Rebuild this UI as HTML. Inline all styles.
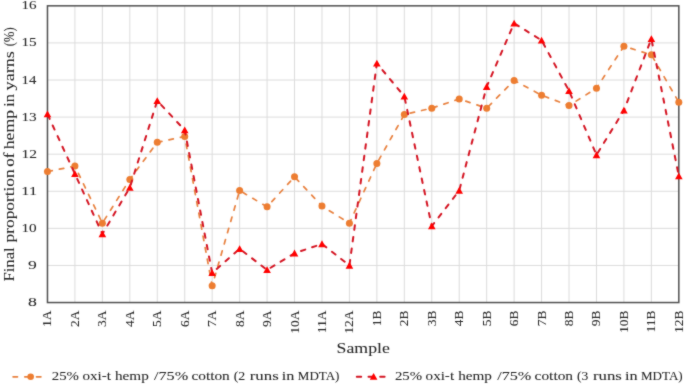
<!DOCTYPE html><html><head><meta charset="utf-8"><style>html,body{margin:0;padding:0;background:#fff;overflow:hidden;}svg{display:block;}#w{width:685px;height:386px;will-change:transform;}text{font-family:"Liberation Serif", serif;}</style></head><body><div id="w">
<svg width="685" height="386" viewBox="0 0 685 386">
<defs><filter id="bl" x="0" y="0" width="685" height="386" filterUnits="userSpaceOnUse" color-interpolation-filters="sRGB"><feConvolveMatrix order="3" kernelMatrix="0.03 0.07 0.03 0.07 0.6 0.07 0.03 0.07 0.03" edgeMode="duplicate"/></filter></defs><g filter="url(#bl)">
<rect x="0" y="0" width="685" height="386" fill="#fff"/>
<path d="M47.47 265.46H678.82M47.47 228.37H678.82M47.47 191.28H678.82M47.47 154.19H678.82M47.47 117.10H678.82M47.47 80.01H678.82M47.47 42.92H678.82M74.92 5.83V302.55M102.37 5.83V302.55M129.82 5.83V302.55M157.27 5.83V302.55M184.72 5.83V302.55M212.17 5.83V302.55M239.62 5.83V302.55M267.07 5.83V302.55M294.52 5.83V302.55M321.97 5.83V302.55M349.42 5.83V302.55M376.87 5.83V302.55M404.32 5.83V302.55M431.77 5.83V302.55M459.22 5.83V302.55M486.67 5.83V302.55M514.12 5.83V302.55M541.57 5.83V302.55M569.02 5.83V302.55M596.47 5.83V302.55M623.92 5.83V302.55M651.37 5.83V302.55" stroke="#DCDCDC" stroke-width="1" fill="none"/>
<rect x="47.47" y="5.83" width="631.35" height="296.72" fill="none" stroke="#505050" stroke-width="1.5"/>
<g stroke="#262626" stroke-width="0.05">
<text x="27.93" y="306.05" font-size="12.5" textLength="8.84" lengthAdjust="spacingAndGlyphs" fill="#262626">8</text>
<text x="28.04" y="268.96" font-size="12.5" textLength="8.78" lengthAdjust="spacingAndGlyphs" fill="#262626">9</text>
<text x="21.46" y="231.87" font-size="12.5" textLength="15.22" lengthAdjust="spacingAndGlyphs" fill="#262626">10</text>
<text x="21.36" y="194.78" font-size="12.5" textLength="15.71" lengthAdjust="spacingAndGlyphs" fill="#262626">11</text>
<text x="21.43" y="157.69" font-size="12.5" textLength="15.52" lengthAdjust="spacingAndGlyphs" fill="#262626">12</text>
<text x="21.46" y="120.60" font-size="12.5" textLength="15.23" lengthAdjust="spacingAndGlyphs" fill="#262626">13</text>
<text x="21.49" y="83.51" font-size="12.5" textLength="14.84" lengthAdjust="spacingAndGlyphs" fill="#262626">14</text>
<text x="21.46" y="46.42" font-size="12.5" textLength="15.23" lengthAdjust="spacingAndGlyphs" fill="#262626">15</text>
<text x="21.47" y="9.33" font-size="12.5" textLength="15.08" lengthAdjust="spacingAndGlyphs" fill="#262626">16</text>
<text transform="translate(51.47,310.6) rotate(-90)" font-size="13.5" text-anchor="end" fill="#262626">1A</text>
<text transform="translate(78.92,310.6) rotate(-90)" font-size="13.5" text-anchor="end" fill="#262626">2A</text>
<text transform="translate(106.37,310.6) rotate(-90)" font-size="13.5" text-anchor="end" fill="#262626">3A</text>
<text transform="translate(133.82,310.6) rotate(-90)" font-size="13.5" text-anchor="end" fill="#262626">4A</text>
<text transform="translate(161.27,310.6) rotate(-90)" font-size="13.5" text-anchor="end" fill="#262626">5A</text>
<text transform="translate(188.72,310.6) rotate(-90)" font-size="13.5" text-anchor="end" fill="#262626">6A</text>
<text transform="translate(216.17,310.6) rotate(-90)" font-size="13.5" text-anchor="end" fill="#262626">7A</text>
<text transform="translate(243.62,310.6) rotate(-90)" font-size="13.5" text-anchor="end" fill="#262626">8A</text>
<text transform="translate(271.07,310.6) rotate(-90)" font-size="13.5" text-anchor="end" fill="#262626">9A</text>
<text transform="translate(298.52,310.6) rotate(-90)" font-size="13.5" text-anchor="end" fill="#262626">10A</text>
<text transform="translate(325.97,310.6) rotate(-90)" font-size="13.5" text-anchor="end" fill="#262626">11A</text>
<text transform="translate(353.42,310.6) rotate(-90)" font-size="13.5" text-anchor="end" fill="#262626">12A</text>
<text transform="translate(380.87,310.6) rotate(-90)" font-size="13.5" text-anchor="end" fill="#262626">1B</text>
<text transform="translate(408.32,310.6) rotate(-90)" font-size="13.5" text-anchor="end" fill="#262626">2B</text>
<text transform="translate(435.77,310.6) rotate(-90)" font-size="13.5" text-anchor="end" fill="#262626">3B</text>
<text transform="translate(463.22,310.6) rotate(-90)" font-size="13.5" text-anchor="end" fill="#262626">4B</text>
<text transform="translate(490.67,310.6) rotate(-90)" font-size="13.5" text-anchor="end" fill="#262626">5B</text>
<text transform="translate(518.12,310.6) rotate(-90)" font-size="13.5" text-anchor="end" fill="#262626">6B</text>
<text transform="translate(545.57,310.6) rotate(-90)" font-size="13.5" text-anchor="end" fill="#262626">7B</text>
<text transform="translate(573.02,310.6) rotate(-90)" font-size="13.5" text-anchor="end" fill="#262626">8B</text>
<text transform="translate(600.47,310.6) rotate(-90)" font-size="13.5" text-anchor="end" fill="#262626">9B</text>
<text transform="translate(627.92,310.6) rotate(-90)" font-size="13.5" text-anchor="end" fill="#262626">10B</text>
<text transform="translate(655.37,310.6) rotate(-90)" font-size="13.5" text-anchor="end" fill="#262626">11B</text>
<text transform="translate(682.82,310.6) rotate(-90)" font-size="13.5" text-anchor="end" fill="#262626">12B</text>
<text x="336.61" y="352.80" font-size="15.5" textLength="53.20" lengthAdjust="spacingAndGlyphs" fill="#262626">Sample</text>
<text transform="translate(13.90,281.10) rotate(-90)" x="-0.48" y="0" font-size="15.5" textLength="34.31" lengthAdjust="spacingAndGlyphs" fill="#262626">Final</text>
<text transform="translate(13.90,242.20) rotate(-90)" x="-0.28" y="0" font-size="15.5" textLength="73.13" lengthAdjust="spacingAndGlyphs" fill="#262626">proportion</text>
<text transform="translate(13.90,166.10) rotate(-90)" x="-0.65" y="0" font-size="15.5" textLength="14.15" lengthAdjust="spacingAndGlyphs" fill="#262626">of</text>
<text transform="translate(13.90,149.10) rotate(-90)" x="-0.18" y="0" font-size="15.5" textLength="39.46" lengthAdjust="spacingAndGlyphs" fill="#262626">hemp</text>
<text transform="translate(13.90,106.40) rotate(-90)" x="-0.34" y="0" font-size="15.5" textLength="12.68" lengthAdjust="spacingAndGlyphs" fill="#262626">in</text>
<text transform="translate(13.90,90.20) rotate(-90)" x="-0.22" y="0" font-size="15.5" textLength="39.37" lengthAdjust="spacingAndGlyphs" fill="#262626">yarns</text>
<text transform="translate(13.90,45.80) rotate(-90)" x="-0.56" y="0" font-size="15.5" textLength="19.02" lengthAdjust="spacingAndGlyphs" fill="#262626">(%)</text>
<text x="51.75" y="380.20" font-size="12" textLength="27.16" lengthAdjust="spacingAndGlyphs" fill="#262626">25%</text>
<text x="82.43" y="380.20" font-size="12" textLength="28.46" lengthAdjust="spacingAndGlyphs" fill="#262626">oxi-t</text>
<text x="114.95" y="380.20" font-size="12" textLength="33.84" lengthAdjust="spacingAndGlyphs" fill="#262626">hemp</text>
<text x="154.00" y="380.20" font-size="12" textLength="34.15" lengthAdjust="spacingAndGlyphs" fill="#262626">/75%</text>
<text x="191.42" y="380.20" font-size="12" textLength="38.41" lengthAdjust="spacingAndGlyphs" fill="#262626">cotton</text>
<text x="233.69" y="380.20" font-size="12" textLength="11.58" lengthAdjust="spacingAndGlyphs" fill="#262626">(2</text>
<text x="249.76" y="380.20" font-size="12" textLength="28.94" lengthAdjust="spacingAndGlyphs" fill="#262626">runs</text>
<text x="281.86" y="380.20" font-size="12" textLength="12.58" lengthAdjust="spacingAndGlyphs" fill="#262626">in</text>
<text x="297.82" y="380.20" font-size="12" textLength="41.65" lengthAdjust="spacingAndGlyphs" fill="#262626">MDTA)</text>
<text x="394.95" y="380.20" font-size="12" textLength="27.16" lengthAdjust="spacingAndGlyphs" fill="#262626">25%</text>
<text x="425.63" y="380.20" font-size="12" textLength="28.46" lengthAdjust="spacingAndGlyphs" fill="#262626">oxi-t</text>
<text x="458.15" y="380.20" font-size="12" textLength="33.84" lengthAdjust="spacingAndGlyphs" fill="#262626">hemp</text>
<text x="497.20" y="380.20" font-size="12" textLength="34.15" lengthAdjust="spacingAndGlyphs" fill="#262626">/75%</text>
<text x="534.62" y="380.20" font-size="12" textLength="38.41" lengthAdjust="spacingAndGlyphs" fill="#262626">cotton</text>
<text x="576.90" y="380.20" font-size="12" textLength="11.33" lengthAdjust="spacingAndGlyphs" fill="#262626">(3</text>
<text x="592.96" y="380.20" font-size="12" textLength="28.94" lengthAdjust="spacingAndGlyphs" fill="#262626">runs</text>
<text x="625.06" y="380.20" font-size="12" textLength="12.58" lengthAdjust="spacingAndGlyphs" fill="#262626">in</text>
<text x="641.02" y="380.20" font-size="12" textLength="41.65" lengthAdjust="spacingAndGlyphs" fill="#262626">MDTA)</text>
</g>
<g stroke="#E8813F" stroke-width="1.7" stroke-dasharray="4.50 7.20" stroke-linecap="round"><line x1="47.47" y1="171.62" x2="74.92" y2="166.06" stroke-dashoffset="11.25"/><line x1="74.92" y1="166.06" x2="102.37" y2="223.18" stroke-dashoffset="3.71"/><line x1="102.37" y1="223.18" x2="129.82" y2="179.41" stroke-dashoffset="8.14"/><line x1="129.82" y1="179.41" x2="157.27" y2="142.32" stroke-dashoffset="0.85"/><line x1="157.27" y1="142.32" x2="184.72" y2="136.39" stroke-dashoffset="11.45"/><line x1="184.72" y1="136.39" x2="212.17" y2="285.86" stroke-dashoffset="3.85"/><line x1="212.17" y1="285.86" x2="239.62" y2="190.54" stroke-dashoffset="3.14"/><line x1="239.62" y1="190.54" x2="267.07" y2="206.86" stroke-dashoffset="8.15"/><line x1="267.07" y1="206.86" x2="294.52" y2="176.81" stroke-dashoffset="4.69"/><line x1="294.52" y1="176.81" x2="321.97" y2="206.12" stroke-dashoffset="9.99"/><line x1="321.97" y1="206.12" x2="349.42" y2="223.18" stroke-dashoffset="3.05"/><line x1="349.42" y1="223.18" x2="376.87" y2="163.46" stroke-dashoffset="0.46"/><line x1="376.87" y1="163.46" x2="404.32" y2="114.50" stroke-dashoffset="7.87"/><line x1="404.32" y1="114.50" x2="431.77" y2="108.20" stroke-dashoffset="5.69"/><line x1="431.77" y1="108.20" x2="459.22" y2="98.93" stroke-dashoffset="10.65"/><line x1="459.22" y1="98.93" x2="486.67" y2="108.20" stroke-dashoffset="4.75"/><line x1="486.67" y1="108.20" x2="514.12" y2="80.38" stroke-dashoffset="9.30"/><line x1="514.12" y1="80.38" x2="541.57" y2="95.22" stroke-dashoffset="0.55"/><line x1="541.57" y1="95.22" x2="569.02" y2="105.60" stroke-dashoffset="8.73"/><line x1="569.02" y1="105.60" x2="596.47" y2="88.17" stroke-dashoffset="3.36"/><line x1="596.47" y1="88.17" x2="623.92" y2="46.26" stroke-dashoffset="1.15"/><line x1="623.92" y1="46.26" x2="651.37" y2="54.79" stroke-dashoffset="4.45"/><line x1="651.37" y1="54.79" x2="678.82" y2="102.26" stroke-dashoffset="9.80"/></g>
<circle cx="47.47" cy="171.62" r="3.5" fill="#ED7D31"/>
<circle cx="74.92" cy="166.06" r="3.5" fill="#ED7D31"/>
<circle cx="102.37" cy="223.18" r="3.5" fill="#ED7D31"/>
<circle cx="129.82" cy="179.41" r="3.5" fill="#ED7D31"/>
<circle cx="157.27" cy="142.32" r="3.5" fill="#ED7D31"/>
<circle cx="184.72" cy="136.39" r="3.5" fill="#ED7D31"/>
<circle cx="212.17" cy="285.86" r="3.5" fill="#ED7D31"/>
<circle cx="239.62" cy="190.54" r="3.5" fill="#ED7D31"/>
<circle cx="267.07" cy="206.86" r="3.5" fill="#ED7D31"/>
<circle cx="294.52" cy="176.81" r="3.5" fill="#ED7D31"/>
<circle cx="321.97" cy="206.12" r="3.5" fill="#ED7D31"/>
<circle cx="349.42" cy="223.18" r="3.5" fill="#ED7D31"/>
<circle cx="376.87" cy="163.46" r="3.5" fill="#ED7D31"/>
<circle cx="404.32" cy="114.50" r="3.5" fill="#ED7D31"/>
<circle cx="431.77" cy="108.20" r="3.5" fill="#ED7D31"/>
<circle cx="459.22" cy="98.93" r="3.5" fill="#ED7D31"/>
<circle cx="486.67" cy="108.20" r="3.5" fill="#ED7D31"/>
<circle cx="514.12" cy="80.38" r="3.5" fill="#ED7D31"/>
<circle cx="541.57" cy="95.22" r="3.5" fill="#ED7D31"/>
<circle cx="569.02" cy="105.60" r="3.5" fill="#ED7D31"/>
<circle cx="596.47" cy="88.17" r="3.5" fill="#ED7D31"/>
<circle cx="623.92" cy="46.26" r="3.5" fill="#ED7D31"/>
<circle cx="651.37" cy="54.79" r="3.5" fill="#ED7D31"/>
<circle cx="678.82" cy="102.26" r="3.5" fill="#ED7D31"/>
<g stroke="#D41422" stroke-width="2.0" stroke-dasharray="4.50 7.20" stroke-linecap="round"><line x1="47.47" y1="114.13" x2="74.92" y2="173.85" stroke-dashoffset="10.90"/><line x1="74.92" y1="173.85" x2="102.37" y2="233.93" stroke-dashoffset="6.25"/><line x1="102.37" y1="233.93" x2="129.82" y2="187.57" stroke-dashoffset="1.94"/><line x1="129.82" y1="187.57" x2="157.27" y2="100.78" stroke-dashoffset="8.84"/><line x1="157.27" y1="100.78" x2="184.72" y2="130.08" stroke-dashoffset="6.10"/><line x1="184.72" y1="130.08" x2="212.17" y2="272.88" stroke-dashoffset="0.05"/><line x1="212.17" y1="272.88" x2="239.62" y2="248.77" stroke-dashoffset="5.66"/><line x1="239.62" y1="248.77" x2="267.07" y2="269.91" stroke-dashoffset="7.70"/><line x1="267.07" y1="269.91" x2="294.52" y2="253.22" stroke-dashoffset="7.54"/><line x1="294.52" y1="253.22" x2="321.97" y2="243.95" stroke-dashoffset="4.86"/><line x1="321.97" y1="243.95" x2="349.42" y2="265.46" stroke-dashoffset="10.73"/><line x1="349.42" y1="265.46" x2="376.87" y2="63.32" stroke-dashoffset="10.80"/><line x1="376.87" y1="63.32" x2="404.32" y2="96.33" stroke-dashoffset="2.96"/><line x1="404.32" y1="96.33" x2="431.77" y2="226.14" stroke-dashoffset="9.55"/><line x1="431.77" y1="226.14" x2="459.22" y2="190.54" stroke-dashoffset="0.60"/><line x1="459.22" y1="190.54" x2="486.67" y2="86.69" stroke-dashoffset="10.20"/><line x1="486.67" y1="86.69" x2="514.12" y2="23.26" stroke-dashoffset="0.35"/><line x1="514.12" y1="23.26" x2="541.57" y2="40.32" stroke-dashoffset="10.70"/><line x1="541.57" y1="40.32" x2="569.02" y2="90.77" stroke-dashoffset="8.84"/><line x1="569.02" y1="90.77" x2="596.47" y2="154.93" stroke-dashoffset="8.69"/><line x1="596.47" y1="154.93" x2="623.92" y2="110.42" stroke-dashoffset="9.20"/><line x1="623.92" y1="110.42" x2="651.37" y2="38.84" stroke-dashoffset="2.99"/><line x1="651.37" y1="38.84" x2="678.82" y2="176.07" stroke-dashoffset="9.46"/></g>
<path d="M47.47 110.53L51.27 117.33L43.67 117.33Z" fill="#FF0000"/>
<path d="M74.92 170.25L78.72 177.05L71.12 177.05Z" fill="#FF0000"/>
<path d="M102.37 230.33L106.17 237.13L98.57 237.13Z" fill="#FF0000"/>
<path d="M129.82 183.97L133.62 190.77L126.02 190.77Z" fill="#FF0000"/>
<path d="M157.27 97.18L161.07 103.98L153.47 103.98Z" fill="#FF0000"/>
<path d="M184.72 126.48L188.52 133.28L180.92 133.28Z" fill="#FF0000"/>
<path d="M212.17 269.28L215.97 276.08L208.37 276.08Z" fill="#FF0000"/>
<path d="M239.62 245.17L243.42 251.97L235.82 251.97Z" fill="#FF0000"/>
<path d="M267.07 266.31L270.87 273.11L263.27 273.11Z" fill="#FF0000"/>
<path d="M294.52 249.62L298.32 256.42L290.72 256.42Z" fill="#FF0000"/>
<path d="M321.97 240.35L325.77 247.15L318.17 247.15Z" fill="#FF0000"/>
<path d="M349.42 261.86L353.22 268.66L345.62 268.66Z" fill="#FF0000"/>
<path d="M376.87 59.72L380.67 66.52L373.07 66.52Z" fill="#FF0000"/>
<path d="M404.32 92.73L408.12 99.53L400.52 99.53Z" fill="#FF0000"/>
<path d="M431.77 222.54L435.57 229.34L427.97 229.34Z" fill="#FF0000"/>
<path d="M459.22 186.94L463.02 193.74L455.42 193.74Z" fill="#FF0000"/>
<path d="M486.67 83.09L490.47 89.89L482.87 89.89Z" fill="#FF0000"/>
<path d="M514.12 19.66L517.92 26.46L510.32 26.46Z" fill="#FF0000"/>
<path d="M541.57 36.72L545.37 43.52L537.77 43.52Z" fill="#FF0000"/>
<path d="M569.02 87.17L572.82 93.97L565.22 93.97Z" fill="#FF0000"/>
<path d="M596.47 151.33L600.27 158.13L592.67 158.13Z" fill="#FF0000"/>
<path d="M623.92 106.82L627.72 113.62L620.12 113.62Z" fill="#FF0000"/>
<path d="M651.37 35.24L655.17 42.04L647.57 42.04Z" fill="#FF0000"/>
<path d="M678.82 172.47L682.62 179.27L675.02 179.27Z" fill="#FF0000"/>
<path d="M13.10 376.8H17.50" stroke="#E8813F" stroke-width="1.7" stroke-linecap="round"/><path d="M24.80 376.8H29.20" stroke="#E8813F" stroke-width="1.7" stroke-linecap="round"/><path d="M36.50 376.8H40.90" stroke="#E8813F" stroke-width="1.7" stroke-linecap="round"/>
<circle cx="30.65" cy="376.8" r="3.3" fill="#ED7D31"/>
<path d="M356.80 376.8H361.20" stroke="#D41422" stroke-width="2.0" stroke-linecap="round"/><path d="M368.50 376.8H372.90" stroke="#D41422" stroke-width="2.0" stroke-linecap="round"/><path d="M380.20 376.8H384.60" stroke="#D41422" stroke-width="2.0" stroke-linecap="round"/>
<path d="M373.60 372.90L377.40 379.70L369.80 379.70Z" fill="#FF0000"/>
</g></svg></div></body></html>
